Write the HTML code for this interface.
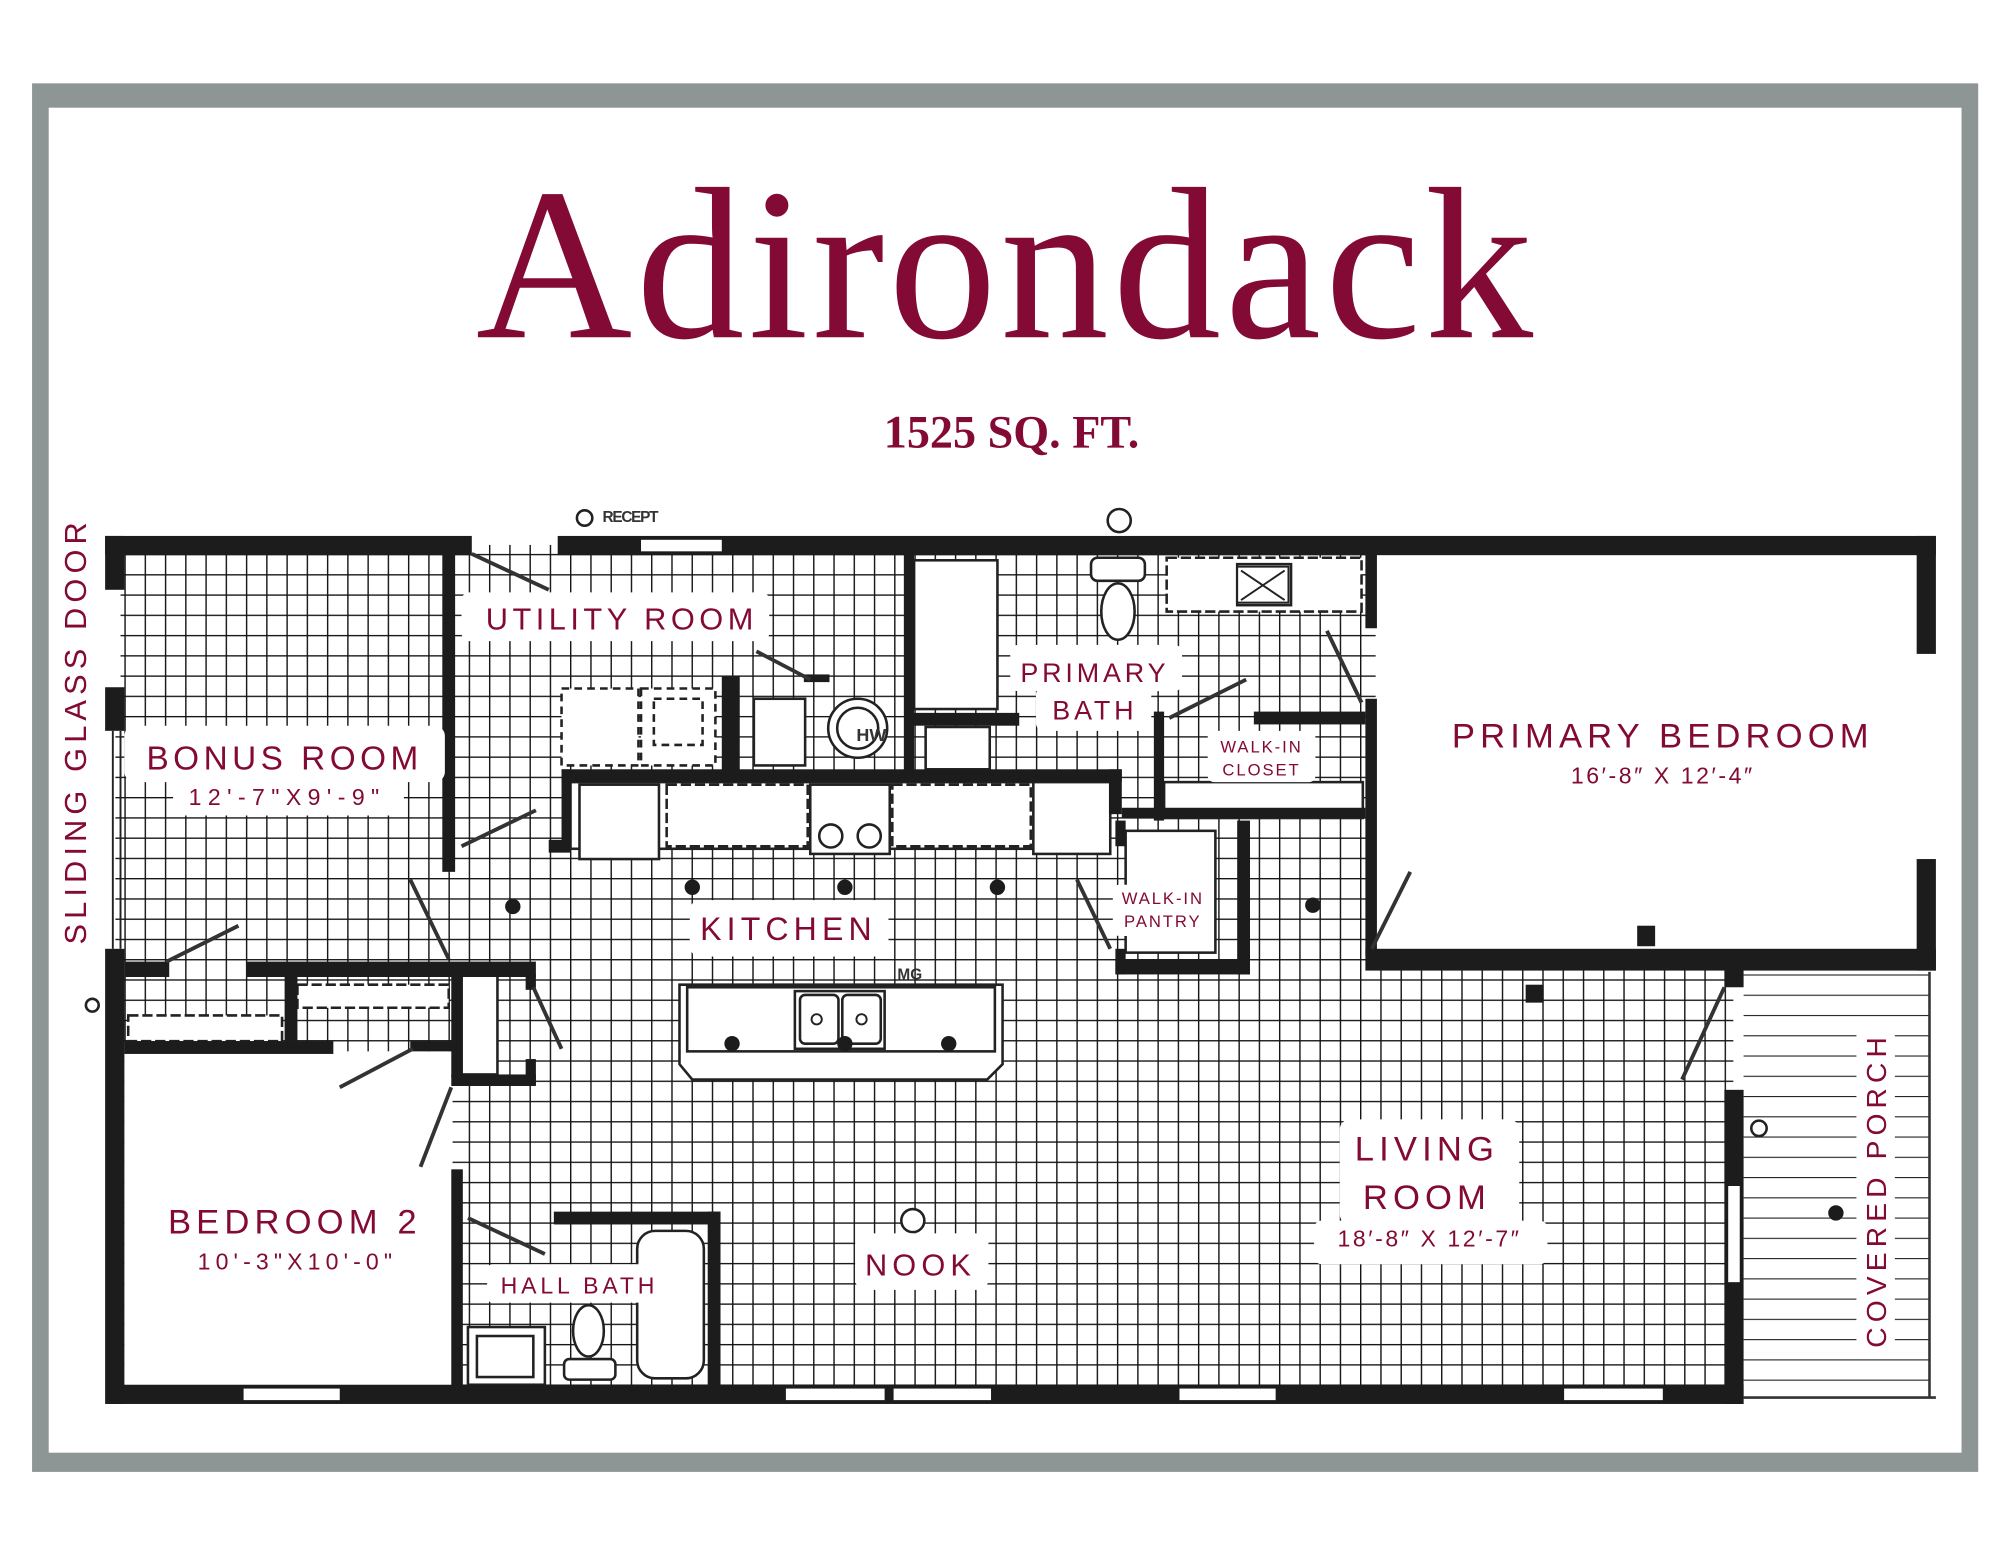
<!DOCTYPE html>
<html><head><meta charset="utf-8"><style>
html,body{margin:0;padding:0;background:#fff;}
svg{display:block;}
.lb{font-family:"Liberation Sans",sans-serif;fill:#830a35;}
</style></head><body>
<svg width="2000" height="1545" viewBox="0 0 1560 1205" preserveAspectRatio="none" xmlns="http://www.w3.org/2000/svg">
<defs>
<pattern id="g" x="97" y="432" width="15.8" height="15.8" patternUnits="userSpaceOnUse">
<rect width="15.8" height="15.8" fill="#fff"/>
<path d="M0 0V15.8M0 0H15.8" stroke="#141414" stroke-width="2.2" fill="none"/>
</pattern>
<pattern id="h" x="1360" y="760" width="160" height="15.8" patternUnits="userSpaceOnUse">
<rect width="160" height="15.8" fill="#fff"/>
<path d="M0 0H160" stroke="#222" stroke-width="1.8"/>
</pattern>
</defs>
<rect width="1560" height="1205" fill="#fff"/>
<rect x="25" y="65" width="1518" height="1083" fill="#8e9695"/>
<rect x="38" y="84" width="1492" height="1049" fill="#fff"/>
<text x="785" y="263" text-anchor="middle" font-family="Liberation Serif,serif" font-size="169" letter-spacing="3" fill="#830a35">Adirondack</text>
<text x="789" y="349" text-anchor="middle" font-family="Liberation Serif,serif" font-weight="bold" font-size="36" fill="#830a35">1525 SQ. FT.</text>

<rect x="90" y="425" width="1262" height="662" fill="url(#g)"/>
<rect x="1360" y="758" width="145" height="332" fill="url(#h)"/>
<path d="M1505 758V1090M1360 1090H1510" stroke="#333" stroke-width="2" fill="none"/>
<rect x="1073" y="432" width="424" height="310" fill="#fff"/>
<rect x="97" y="820" width="256" height="262" fill="#fff"/>
<g fill="#fff" stroke="#222" stroke-width="2">
<rect x="438" y="537" width="60" height="60" stroke-dasharray="6 4"/>
<rect x="500" y="537" width="58" height="60" stroke-dasharray="6 4"/>
<rect x="510" y="545" width="38" height="36" stroke-dasharray="6 4"/>
<rect x="588" y="545" width="40" height="52"/>
<circle cx="669" cy="568" r="23"/><circle cx="669" cy="568" r="16"/>
<rect x="445" y="610" width="420" height="52"/>
<rect x="452" y="612" width="62" height="58"/>
<rect x="520" y="612" width="110" height="48" stroke-dasharray="8 3"/>
<rect x="632" y="612" width="62" height="54"/>
<rect x="696" y="612" width="108" height="48" stroke-dasharray="8 3"/>
<rect x="806" y="610" width="60" height="56"/>
<rect x="713" y="437" width="65" height="116"/>
<rect x="722" y="567" width="50" height="33"/>
<rect x="851" y="435" width="42" height="18" rx="5"/>
<ellipse cx="872" cy="477" rx="13" ry="22"/>
<rect x="910" y="435" width="152" height="42" stroke-dasharray="8 3"/>
<rect x="965" y="440" width="42" height="32"/>
<rect x="908" y="610" width="155" height="28"/>
<rect x="878" y="648" width="70" height="95"/>
<rect x="360" y="760" width="28" height="78"/>
<rect x="100" y="792" width="120" height="20" stroke-dasharray="8 3"/>
<rect x="232" y="768" width="118" height="18" stroke-dasharray="8 3"/>
<path d="M530 768H782V830L770 842H540L530 830Z"/>
<rect x="536" y="770" width="240" height="50"/>
<rect x="620" y="773" width="70" height="45"/>
<rect x="624" y="776" width="30" height="38" rx="4"/><rect x="657" y="776" width="30" height="38" rx="4"/>
<rect x="497" y="960" width="52" height="115" rx="14"/>
<ellipse cx="459" cy="1038" rx="12" ry="20"/>
<rect x="440" y="1060" width="40" height="16" rx="4"/>
<rect x="365" y="1035" width="60" height="45"/>
<rect x="372" y="1042" width="44" height="32"/>
<circle cx="648" cy="652" r="9"/><circle cx="678" cy="652" r="9"/>
</g>
<g fill="#fff" stroke="#222" stroke-width="1.5">
<circle cx="637" cy="795" r="4"/><circle cx="672" cy="795" r="4"/>
<path d="M965 442H1005V470H965Z M968 445L1002 468M1002 445L968 468"/>
</g>
<g fill="#1c1c1c">
<rect x="82" y="418" width="286" height="15"/>
<rect x="435" y="418" width="1075" height="15"/>
<rect x="82" y="418" width="15" height="42"/>
<rect x="82" y="536" width="15" height="34"/>
<rect x="82" y="740" width="15" height="355"/>
<rect x="85" y="1080" width="1275" height="15"/>
<rect x="1495" y="418" width="15" height="92"/>
<rect x="1495" y="670" width="15" height="87"/>
<rect x="1065" y="740" width="445" height="17"/>
<rect x="1065" y="432" width="9" height="58"/>
<rect x="1065" y="545" width="9" height="200"/>
<rect x="1345" y="755" width="15" height="15"/>
<rect x="1345" y="850" width="15" height="245"/>
<rect x="345" y="432" width="10" height="248"/>
<rect x="97" y="750" width="35" height="12"/>
<rect x="192" y="750" width="226" height="12"/>
<rect x="222" y="762" width="10" height="50"/>
<rect x="97" y="812" width="163" height="10"/>
<rect x="320" y="812" width="40" height="8"/>
<rect x="352" y="760" width="9" height="80"/>
<rect x="352" y="838" width="66" height="9"/>
<rect x="410" y="760" width="8" height="12"/>
<rect x="410" y="826" width="8" height="20"/>
<rect x="352" y="912" width="9" height="175"/>
<rect x="432" y="945" width="130" height="10"/>
<rect x="552" y="945" width="10" height="140"/>
<rect x="563" y="527" width="14" height="78"/>
<rect x="438" y="600" width="437" height="10"/>
<rect x="438" y="600" width="7" height="60"/>
<rect x="428" y="655" width="17" height="10"/>
<rect x="865" y="600" width="10" height="35"/>
<rect x="705" y="432" width="8" height="172"/>
<rect x="707" y="556" width="88" height="10"/>
<rect x="900" y="555" width="8" height="85"/>
<rect x="978" y="555" width="87" height="10"/>
<rect x="875" y="630" width="190" height="8"/>
<rect x="870" y="640" width="8" height="20"/>
<rect x="870" y="740" width="8" height="20"/>
<rect x="965" y="640" width="10" height="120"/>
<rect x="870" y="748" width="105" height="12"/>
<rect x="1190" y="768" width="14" height="14"/>
<rect x="1277" y="722" width="14" height="16"/>
<rect x="627" y="526" width="20" height="6"/>
</g>
<g fill="#fff">
<rect x="500" y="421" width="63" height="9"/>
<rect x="85" y="462" width="9" height="72"/>
<rect x="190" y="1083" width="75" height="9"/>
<rect x="613" y="1083" width="77" height="9"/>
<rect x="697" y="1083" width="76" height="9"/>
<rect x="920" y="1083" width="75" height="9"/>
<rect x="1220" y="1083" width="77" height="9"/>
<rect x="1498" y="512" width="9" height="76"/>
<rect x="1498" y="592" width="9" height="76"/>
<rect x="1348" y="925" width="9" height="75"/>
</g>
<path d="M88 570V740M94 570V740" stroke="#222" stroke-width="1.5"/>
<g stroke="#333" stroke-width="3" fill="none">
<path d="M368 432L428 460M590 508L632 530M360 660L418 632M320 686L350 748M130 750L186 722M265 848L322 818M328 910L352 848M416 770L438 818M365 950L425 978M840 686L866 740M912 560L972 530M1035 492L1062 548M1070 740L1100 680M1312 842L1345 770"/>
</g>
<g fill="#1c1c1c">
<circle cx="400" cy="707" r="6"/><circle cx="540" cy="692" r="6"/><circle cx="659" cy="692" r="6"/><circle cx="778" cy="692" r="6"/><circle cx="1024" cy="706" r="6"/>
<circle cx="571" cy="814" r="6"/><circle cx="659" cy="814" r="6"/><circle cx="740" cy="814" r="6"/>
<circle cx="1432" cy="946" r="6"/>
</g>
<g fill="#fff" stroke="#222" stroke-width="2"><circle cx="712" cy="952" r="9"/><circle cx="456" cy="404" r="6"/><circle cx="873" cy="406" r="9"/><circle cx="1372" cy="880" r="6"/><circle cx="72" cy="784" r="5"/></g>
<g font-family="Liberation Sans,sans-serif" font-weight="bold" fill="#333">
<text x="470" y="407" font-size="12" letter-spacing="-1">RECEPT</text>
<text x="668" y="578" font-size="14">HW</text>
<text x="700" y="764" font-size="12">MG</text>
</g>
<g fill="#fff">
<rect x="360" y="462" width="240" height="38" rx="6"/>
<rect x="97" y="566" width="250" height="44" rx="8"/>
<rect x="135" y="606" width="180" height="30" rx="6"/>
<rect x="788" y="503" width="134" height="36" rx="6"/>
<rect x="808" y="536" width="90" height="34" rx="6"/>
<rect x="942" y="570" width="84" height="40" rx="5"/>
<rect x="538" y="702" width="155" height="44" rx="8"/>
<rect x="868" y="690" width="78" height="40" rx="5"/>
<rect x="1045" y="873" width="140" height="82" rx="8"/>
<rect x="1025" y="952" width="182" height="34" rx="6"/>
<rect x="667" y="962" width="104" height="44" rx="8"/>
<rect x="380" y="986" width="142" height="30" rx="4"/>
<rect x="1448" y="800" width="30" height="255" rx="8"/>
<rect x="40" y="400" width="36" height="340"/>
</g>
<g class="lb">
<text x="485" y="491" font-size="24" letter-spacing="3.5" text-anchor="middle">UTILITY ROOM</text>
<text x="222" y="600" font-size="26" letter-spacing="3.5" text-anchor="middle">BONUS ROOM</text>
<text x="224" y="628" font-size="18" letter-spacing="5" text-anchor="middle">12'-7"X9'-9"</text>
<text x="854" y="532" font-size="21" letter-spacing="3" text-anchor="middle">PRIMARY</text>
<text x="854" y="561" font-size="21" letter-spacing="3" text-anchor="middle">BATH</text>
<text x="984" y="587" font-size="13" letter-spacing="1.5" text-anchor="middle">WALK-IN</text>
<text x="984" y="605" font-size="13" letter-spacing="1.5" text-anchor="middle">CLOSET</text>
<text x="1297" y="583" font-size="27" letter-spacing="4" text-anchor="middle">PRIMARY BEDROOM</text>
<text x="1297" y="611" font-size="18" letter-spacing="2" text-anchor="middle">16′-8″ X 12′-4″</text>
<text x="615" y="733" font-size="25" letter-spacing="4" text-anchor="middle">KITCHEN</text>
<text x="907" y="705" font-size="13" letter-spacing="1.5" text-anchor="middle">WALK-IN</text>
<text x="907" y="723" font-size="13" letter-spacing="1.5" text-anchor="middle">PANTRY</text>
<text x="1113" y="905" font-size="27" letter-spacing="4" text-anchor="middle">LIVING</text>
<text x="1113" y="943" font-size="27" letter-spacing="4" text-anchor="middle">ROOM</text>
<text x="1115" y="972" font-size="18" letter-spacing="2" text-anchor="middle">18′-8″ X 12′-7″</text>
<text x="718" y="995" font-size="24" letter-spacing="4" text-anchor="middle">NOOK</text>
<text x="230" y="962" font-size="27" letter-spacing="4" text-anchor="middle">BEDROOM 2</text>
<text x="232" y="990" font-size="18" letter-spacing="4" text-anchor="middle">10'-3"X10'-0"</text>
<text x="452" y="1009" font-size="18" letter-spacing="3" text-anchor="middle">HALL BATH</text>
<text transform="translate(67,570) rotate(-90)" font-size="24" letter-spacing="4" text-anchor="middle">SLIDING GLASS DOOR</text>
<text transform="translate(1471,928) rotate(-90)" font-size="22" letter-spacing="4" text-anchor="middle">COVERED PORCH</text>
</g>
</svg>
</body></html>
